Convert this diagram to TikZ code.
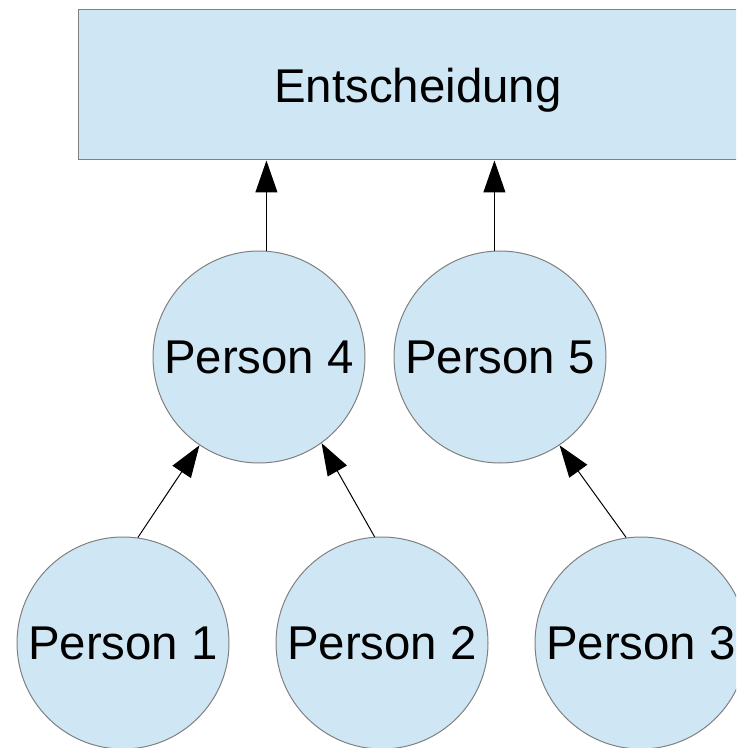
\documentclass[tikz,border=0pt]{standalone}
\usepackage{fontspec}
\setmainfont{Liberation Sans}
\usetikzlibrary{arrows.meta,positioning}
\definecolor{hellblau}{HTML}{CFE7F5}
\definecolor{randgrau}{HTML}{808080}
\tikzset{
    %Define standard arrow tip
    >={Triangle[length=16pt,width=11pt]},
    %Define style for the decision box
    kasten/.style={
           rectangle,
           draw=randgrau, fill=hellblau,
           line width=0.5pt,
           minimum width=340pt,
           minimum height=75pt,
           text depth=0pt,
           font=\fontsize{23.7}{28}\selectfont},
    %Define style for the persons
    kreis/.style={
           circle,
           draw=randgrau, fill=hellblau,
           line width=0.5pt,
           inner sep=0pt,
           minimum size=106pt,
           font=\fontsize{23.7}{28}\selectfont},
    % Define arrow style
    pfeil/.style={
           ->,
           line width=0.5pt}
}
\begin{document}
\begin{tikzpicture}[x=0.5pt,y=0.5pt]
 \useasboundingbox (0,0) rectangle (736,-748);
 \clip (0,0) rectangle (736,-748);

 \node[kasten] (ent) at (418,-85) {Entscheidung};
 \node[kreis] (p4) at (259,-357) {Person 4};
 \node[kreis, right=14pt of p4] (p5) {Person 5};
 \node[kreis] (p1) at (123,-643) {Person 1};
 \node[kreis, right=23pt of p1] (p2) {Person 2};
 \node[kreis, right=23pt of p2] (p3) {Person 3};

 \draw[pfeil] (p4.86) -- (p4.86 |- ent.south);
 \draw[pfeil] (p5.93) -- (p5.93 |- ent.south);
 \draw[pfeil] (p1.82) -- (p4.236);
 \draw[pfeil] (p2.94) -- (p4.306);
 \draw[pfeil] (p3.98) -- (p5.304);
\end{tikzpicture}
\end{document}
